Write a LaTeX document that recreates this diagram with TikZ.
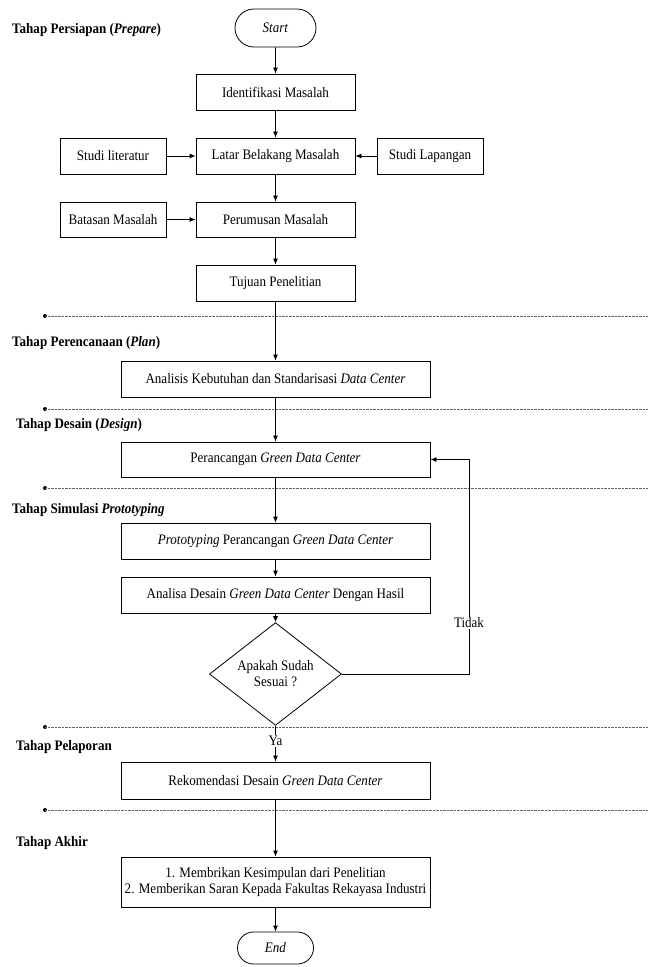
\documentclass[tikz,border=0pt]{standalone}
\usepackage{fontspec}
\setmainfont{Liberation Serif}[FakeStretch=0.9]
\usetikzlibrary{arrows.meta,shapes.geometric,shapes.misc}
\begin{document}
\begin{tikzpicture}[x=1pt,y=-1pt,
  every node/.style={font=\fontsize{14.5}{16}\selectfont},
  box/.style={draw,thick,rectangle,minimum height=36pt,inner sep=0pt},
  sbox/.style={box,minimum width=159pt},
  wbox/.style={box,minimum width=309pt},
  term/.style={draw,thick,rounded rectangle,inner sep=0pt},
  dec/.style={draw,thick,diamond,minimum width=132pt,minimum height=84pt,inner sep=0pt,align=center},
  arr/.style={thick,-{Latex[length=6pt,width=5pt]}},
  phase/.style={anchor=west,inner sep=0pt,font=\fontsize{14.5}{16}\selectfont\bfseries},
  sep/.style={densely dotted,gray!80!black,thin},
  lbl/.style={fill=white,inner sep=1pt}
]
\useasboundingbox (0,0) rectangle (648,967);

% phase separators
\foreach \yy in {316,409,488,727,810}{
  \fill (45,\yy) circle (2pt);
  \draw[sep] (45,\yy) -- (648,\yy);
}

% phase labels
\node[phase] (p1) at (12,30) {Tahap Persiapan (\textit{Prepare})};
\node[phase] (p2) at (12,343) {Tahap Perencanaan (\textit{Plan})};
\node[phase] (p3) at (16,425) {Tahap Desain (\textit{Design})};
\node[phase] (p4) at (12,510) {Tahap Simulasi \textit{Prototyping}};
\node[phase] (p5) at (16,747) {Tahap Pelaporan};
\node[phase] (p6) at (16,843) {Tahap Akhir};

% nodes
\node[term,minimum width=81pt,minimum height=38pt] (start) at (275.5,28) {\textit{Start}};
\node[sbox] (ident) at (275.5,92) {Identifikasi Masalah};
\node[box,minimum width=106pt] (lit) at (113,156) {Studi literatur};
\node[sbox] (latar) at (275.5,156) {Latar Belakang Masalah};
\node[box,minimum width=106pt] (lap) at (430,156) {Studi Lapangan};
\node[box,minimum width=106pt,minimum height=35pt] (bat) at (113,219.5) {Batasan Masalah};
\node[sbox,minimum height=35pt] (rum) at (275.5,219.5) {Perumusan Masalah};
\node[sbox] (tuj) at (275.5,283) {Tujuan Penelitian};
\node[wbox] (anal) at (275.5,379) {Analisis Kebutuhan dan Standarisasi \textit{Data Center}};
\node[wbox,minimum height=35pt] (ranc) at (275.5,459.5) {Perancangan \textit{Green Data Center}};
\node[wbox] (proto) at (275.5,541) {\textit{Prototyping} Perancangan \textit{Green Data Center}};
\node[wbox] (analisa) at (275.5,595) {Analisa Desain \textit{Green Data Center} Dengan Hasil};
\node[dec] (q) at (275.5,674) {Apakah Sudah\\Sesuai ?};
\node[wbox,minimum height=37pt] (rek) at (275.5,780.5) {Rekomendasi Desain \textit{Green Data Center}};
\node[wbox,minimum height=50pt,align=center] (akhir) at (275.5,882) {1. Membrikan Kesimpulan dari Penelitian\\2. Memberikan Saran Kepada Fakultas Rekayasa Industri};
\node[term,minimum width=76pt,minimum height=32pt] (end) at (275.5,948) {\textit{End}};

% connectors
\draw[arr] (start) -- (ident);
\draw[arr] (ident) -- (latar);
\draw[arr] (lit) -- (latar);
\draw[arr] (lap) -- (latar);
\draw[arr] (latar) -- (rum);
\draw[arr] (bat) -- (rum);
\draw[arr] (rum) -- (tuj);
\draw[arr] (tuj) -- (anal);
\draw[arr] (anal) -- (ranc);
\draw[arr] (ranc) -- (proto);
\draw[arr] (proto) -- (analisa);
\draw[arr] (analisa) -- (q);
\coordinate (fb) at (469,459.5);
\draw[arr] (q.east) -| (fb) -- (ranc.east);
\node[lbl] (tidak) at (469,623) {Tidak};
\draw[arr] (q) -- (rek);
\node[lbl] (ya) at (275.5,741) {Ya};
\draw[arr] (rek) -- (akhir);
\draw[arr] (akhir) -- (end);
\end{tikzpicture}
\end{document}
